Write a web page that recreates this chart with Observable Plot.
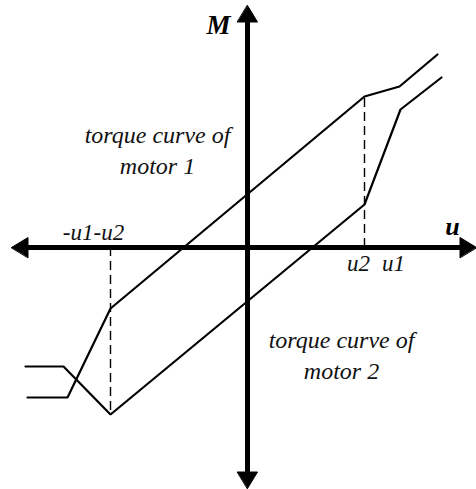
<!DOCTYPE html>
<html>
<head>
<meta charset="utf-8">
<script src="https://cdn.jsdelivr.net/npm/d3@7"></script>
<script src="https://cdn.jsdelivr.net/npm/@observablehq/plot@0.6"></script>
<style>
  html, body { margin: 0; padding: 0; background: #fff; }
  #chart svg { display: block; }
</style>
</head>
<body>
<div id="chart"></div>
<script>
// Switching points on the control axis u
const u2 = 11.7;
const u1 = 15.2;
const negU1U2 = -13.7;

// Torque curve of motor 1 (control signal u → torque M)
const motor1U = [-22.0, -18.0, -13.7, 11.7, 15.2, 19.0];
const motor1M = [-15.0, -15.0, -6.1, 15.1, 16.1, 19.3];

// Torque curve of motor 2
const motor2U = [-22.2, -18.4, -13.7, 11.7, 15.3, 19.4];
const motor2M = [-11.9, -11.9, -16.7, 4.3, 13.8, 17.0];

// Tick labels on the u axis
const tickValues = [negU1U2, u2, u1];
const tickLabels = ["-u1-u2", "u2", "u1"];

const motor1 = motor1U.map((u, i) => ({u, m: motor1M[i]}));
const motor2 = motor2U.map((u, i) => ({u, m: motor2M[i]}));
const ticks = tickValues.map((u, i) => ({u, label: tickLabels[i]}));

// Axis extents (tip positions) and arrowhead size, in chart units
const xDomain = [-24.7, 22.9];
const yDomain = [-24.2, 24.7];
const xTips = [-23.6, 22.9];
const yTips = [-24.1, 24.2];
const headLen = 1.65;
const headHalf = 1.0;

const heads = [
  [[xTips[0], 0], [xTips[0] + headLen, headHalf], [xTips[0] + headLen, -headHalf]],
  [[xTips[1], 0], [xTips[1] - headLen, headHalf], [xTips[1] - headLen, -headHalf]],
  [[0, yTips[0]], [headHalf, yTips[0] + headLen], [-headHalf, yTips[0] + headLen]],
  [[0, yTips[1]], [headHalf, yTips[1] - headLen], [-headHalf, yTips[1] - headLen]]
].flatMap((tri, k) => tri.map(([u, m]) => ({u, m, k})));

const serif = "'Liberation Serif', 'Times New Roman', serif";

const chart = Plot.plot({
  width: 476,
  height: 489,
  margin: 0,
  style: {fontFamily: serif},
  x: {domain: xDomain, axis: null},
  y: {domain: yDomain, axis: null},
  marks: [
    // coordinate axes with filled arrowheads
    Plot.ruleY([0], {x1: xTips[0] + headLen * 0.9, x2: xTips[1] - headLen * 0.9, stroke: "#000", strokeWidth: 5}),
    Plot.ruleX([0], {y1: yTips[0] + headLen * 0.9, y2: yTips[1] - headLen * 0.9, stroke: "#000", strokeWidth: 5}),
    Plot.line(heads, {x: "u", y: "m", z: "k", fill: "#000", stroke: "#000", strokeWidth: 1, curve: "linear-closed"}),
    // dashed guides at the switching points
    Plot.ruleX([u2], {y1: 0, y2: motor1M[3], stroke: "#000", strokeWidth: 1.4, strokeDasharray: "9,5"}),
    Plot.ruleX([negU1U2], {y1: 0, y2: motor2M[2], stroke: "#000", strokeWidth: 1.4, strokeDasharray: "9,5"}),
    // torque curves
    Plot.line(motor1, {x: "u", y: "m", stroke: "#000", strokeWidth: 2.2, strokeLinejoin: "miter"}),
    Plot.line(motor2, {x: "u", y: "m", stroke: "#000", strokeWidth: 2.2, strokeLinejoin: "miter"}),
    // tick labels
    Plot.text(ticks, {x: "u", y: 0, text: "label", fontFamily: serif, fontStyle: "italic", fontSize: 23,
      fill: "#111", filter: d => d.u < 0, dx: -17, dy: -15}),
    Plot.text(ticks, {x: "u", y: 0, text: "label", fontFamily: serif, fontStyle: "italic", fontSize: 23,
      fill: "#111", filter: d => d.u > 0, dx: -6, dy: 16}),
    // axis titles
    Plot.text(["M"], {x: 0, y: yTips[1], dx: -29, dy: 20, fontFamily: serif, fontStyle: "italic", fontWeight: "bold", fontSize: 27, fill: "#000"}),
    Plot.text(["u"], {x: xTips[1], y: 0, dx: -24, dy: -21, fontFamily: serif, fontStyle: "italic", fontWeight: "bold", fontSize: 26, fill: "#000"}),
    // curve annotations
    Plot.text(["torque curve of\nmotor 1"], {x: -9.0, y: 9.9, fontFamily: serif, fontStyle: "italic", fontSize: 24, lineHeight: 1.3, fill: "#111"}),
    Plot.text(["torque curve of\nmotor 2"], {x: 9.4, y: -10.6, fontFamily: serif, fontStyle: "italic", fontSize: 24, lineHeight: 1.3, fill: "#111"})
  ]
});

document.getElementById("chart").appendChild(chart);
</script>
</body>
</html>
